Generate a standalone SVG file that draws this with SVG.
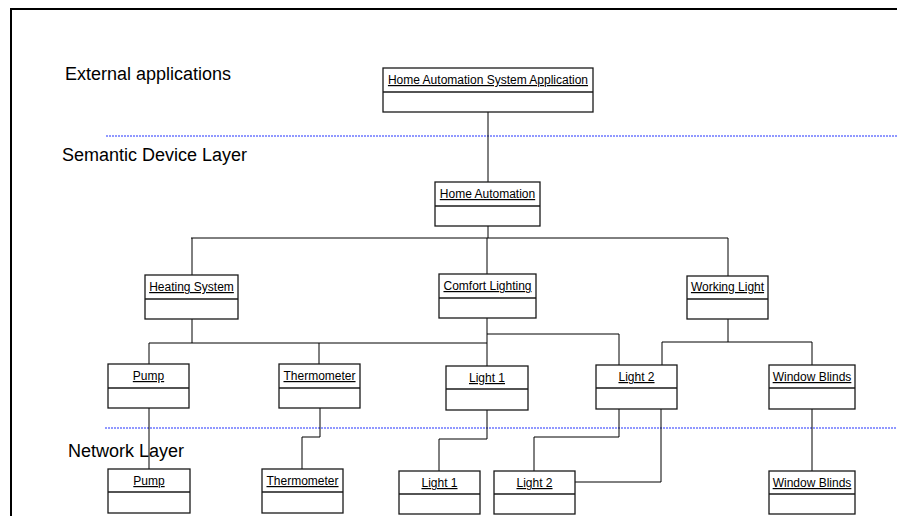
<svg xmlns="http://www.w3.org/2000/svg" width="897" height="516" viewBox="0 0 897 516">
<style>
.box{fill:#fff;stroke:#1a1a1a;stroke-width:1.3}
.div{stroke:#1a1a1a;stroke-width:1.3}
.lbl{font-family:"Liberation Sans",Arial,sans-serif;font-size:12px;text-anchor:middle;text-decoration:underline;fill:#000}
.layer{font-family:"Liberation Sans",Arial,sans-serif;font-size:18px;fill:#000}
.con{fill:none;stroke:#000;stroke-width:1}
.sep{stroke:#2233ff;stroke-width:1.2;stroke-dasharray:2,1}
</style>
<rect width="897" height="516" fill="#fff"/>
<path d="M11,516 V9 H897" fill="none" stroke="#000" stroke-width="2"/>
<line class="sep" x1="106" y1="136" x2="897" y2="136"/>
<line class="sep" x1="105" y1="428" x2="897" y2="428"/>
<text class="layer" x="65" y="80">External applications</text>
<text class="layer" x="62" y="161">Semantic Device Layer</text>
<text class="layer" x="68" y="457">Network Layer</text>
<g id="connectors">
<path class="con" d="M488,112 V182"/>
<path class="con" d="M488,226 V238"/>
<path class="con" d="M191,238 H728"/>
<path class="con" d="M192,238 V275"/>
<path class="con" d="M487,238 V274"/>
<path class="con" d="M728,238 V276"/>
<path class="con" d="M192,319 V343" stroke-width="1.5"/>
<path class="con" d="M149,364 V343 H487" stroke-width="1.3"/>
<path class="con" d="M319,343 V364"/>
<path class="con" d="M487,318 V366"/>
<path class="con" d="M487,334 H619 V365"/>
<path class="con" d="M728,319 V342"/>
<path class="con" d="M662,365 V342 H812 V365"/>
<path class="con" d="M149,408 V469"/>
<path class="con" d="M320,408 V437 H302 V469"/>
<path class="con" d="M487,409 V439 H439 V471"/>
<path class="con" d="M619,409 V437 H534 V471"/>
<path class="con" d="M661,409 V482 H575"/>
<path class="con" d="M812,409 V471"/>
</g>
<g id="hasa">
<rect class="box" x="383" y="68" width="210" height="44"/>
<line class="div" x1="383" y1="92" x2="593" y2="92"/>
<text class="lbl" x="488" y="84">Home Automation System Application</text>
</g>
<g id="home-automation">
<rect class="box" x="435" y="182" width="105" height="44"/>
<line class="div" x1="435" y1="206" x2="540" y2="206"/>
<text class="lbl" x="487.5" y="198">Home Automation</text>
</g>
<g id="heating-system">
<rect class="box" x="145" y="275" width="93" height="44"/>
<line class="div" x1="145" y1="299" x2="238" y2="299"/>
<text class="lbl" x="191.5" y="291">Heating System</text>
</g>
<g id="comfort-lighting">
<rect class="box" x="439" y="274" width="97" height="44"/>
<line class="div" x1="439" y1="298" x2="536" y2="298"/>
<text class="lbl" x="487.5" y="290">Comfort Lighting</text>
</g>
<g id="working-light">
<rect class="box" x="687" y="276" width="81" height="43"/>
<line class="div" x1="687" y1="299" x2="768" y2="299"/>
<text class="lbl" x="727.5" y="291">Working Light</text>
</g>
<g id="pump">
<rect class="box" x="108" y="364" width="81" height="44"/>
<line class="div" x1="108" y1="388" x2="189" y2="388"/>
<text class="lbl" x="148.5" y="380">Pump</text>
</g>
<g id="thermometer">
<rect class="box" x="279" y="364" width="81" height="44"/>
<line class="div" x1="279" y1="388" x2="360" y2="388"/>
<text class="lbl" x="319.5" y="380">Thermometer</text>
</g>
<g id="light1">
<rect class="box" x="446" y="366" width="82" height="44"/>
<line class="div" x1="446" y1="389" x2="528" y2="389"/>
<text class="lbl" x="487" y="382">Light 1</text>
</g>
<g id="light2">
<rect class="box" x="596" y="365" width="81" height="44"/>
<line class="div" x1="596" y1="388" x2="677" y2="388"/>
<text class="lbl" x="636.5" y="381">Light 2</text>
</g>
<g id="window-blinds">
<rect class="box" x="769" y="365" width="86" height="44"/>
<line class="div" x1="769" y1="388" x2="855" y2="388"/>
<text class="lbl" x="812" y="381">Window Blinds</text>
</g>
<g id="net-pump">
<rect class="box" x="108" y="469" width="82" height="44"/>
<line class="div" x1="108" y1="492" x2="190" y2="492"/>
<text class="lbl" x="149" y="485">Pump</text>
</g>
<g id="net-thermometer">
<rect class="box" x="262" y="469" width="81" height="44"/>
<line class="div" x1="262" y1="492" x2="343" y2="492"/>
<text class="lbl" x="302.5" y="485">Thermometer</text>
</g>
<g id="net-light1">
<rect class="box" x="399" y="471" width="81" height="43"/>
<line class="div" x1="399" y1="494" x2="480" y2="494"/>
<text class="lbl" x="439.5" y="487">Light 1</text>
</g>
<g id="net-light2">
<rect class="box" x="494" y="471" width="81" height="43"/>
<line class="div" x1="494" y1="494" x2="575" y2="494"/>
<text class="lbl" x="534.5" y="487">Light 2</text>
</g>
<g id="net-window-blinds">
<rect class="box" x="769" y="471" width="86" height="43"/>
<line class="div" x1="769" y1="494" x2="855" y2="494"/>
<text class="lbl" x="812" y="487">Window Blinds</text>
</g>
</svg>
